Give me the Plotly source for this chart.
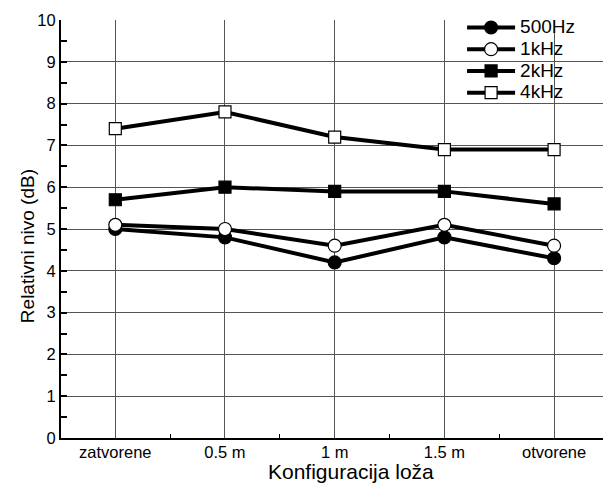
import plotly.graph_objects as go

# Box configuration categories and measured relative levels (dB)
categories = ["zatvorene", "0.5 m", "1 m", "1.5 m", "otvorene"]
level_500hz = [5.0, 4.8, 4.2, 4.8, 4.3]
level_1khz = [5.1, 5.0, 4.6, 5.1, 4.6]
level_2khz = [5.7, 6.0, 5.9, 5.9, 5.6]
level_4khz = [7.4, 7.8, 7.2, 6.9, 6.9]
y_ticks = list(range(0, 11))

x_pos = list(range(len(categories)))

series = [
    ("500Hz", level_500hz, "circle", "black"),
    ("1kHz", level_1khz, "circle", "white"),
    ("2kHz", level_2khz, "square", "black"),
    ("4kHz", level_4khz, "square", "white"),
]

fig = go.Figure()
for name, vals, symbol, fill in series:
    fig.add_trace(go.Scatter(
        x=x_pos, y=vals,
        name=f"<span style='font-size:19px'>{name}</span>",
        mode="lines+markers",
        line=dict(color="black", width=4),
        marker=dict(symbol=symbol, size=13 if symbol == "circle" else 12,
                    color=fill, line=dict(color="black", width=1.2)),
    ))

font = "Liberation Sans, Arial, sans-serif"
fig.update_layout(
    width=603, height=486,
    margin=dict(l=61, r=0, t=20, b=48),
    paper_bgcolor="white", plot_bgcolor="white",
    font=dict(family=font, color="black", size=16.5),
    showlegend=True,
    legend=dict(x=0.74, y=1.02, xanchor="left", yanchor="top",
                bgcolor="rgba(0,0,0,0)", borderwidth=0,
                font=dict(size=14.4), itemwidth=48, tracegroupgap=0),
    xaxis=dict(
        range=[-0.495, 4.446],
        tickmode="array", tickvals=x_pos, ticktext=categories,
        ticks="", showgrid=True, gridcolor="#555555", gridwidth=1,
        showline=True, linecolor="black", linewidth=2,
        zeroline=False, ticklabelstandoff=-2,
        minor=dict(tickmode="array", tickvals=[0.5, 1.5, 2.5, 3.5],
                   ticks="inside", ticklen=4, tickwidth=1, tickcolor="black",
                   showgrid=False),
    ),
    yaxis=dict(
        range=[0, 10],
        tickmode="array", tickvals=y_ticks,
        ticks="inside", ticklen=6, tickwidth=2, tickcolor="black",
        showgrid=True, gridcolor="#555555", gridwidth=1,
        showline=True, linecolor="black", linewidth=2,
        zeroline=False,
        minor=dict(tickmode="linear", tick0=0.5, dtick=1,
                   ticks="inside", ticklen=6, tickwidth=2, tickcolor="black",
                   showgrid=False),
    ),
    annotations=[
        dict(text="Konfiguracija loža", xref="paper", yref="paper",
             x=0.535, y=-0.079, xanchor="center", yanchor="middle",
             showarrow=False, font=dict(size=21)),
        dict(text="Relativni nivo (dB)", xref="paper", yref="paper",
             x=-0.0627, y=0.459, xanchor="center", yanchor="middle",
             textangle=-90, showarrow=False, font=dict(size=19)),
    ],
)

fig.write_html("out.html")
